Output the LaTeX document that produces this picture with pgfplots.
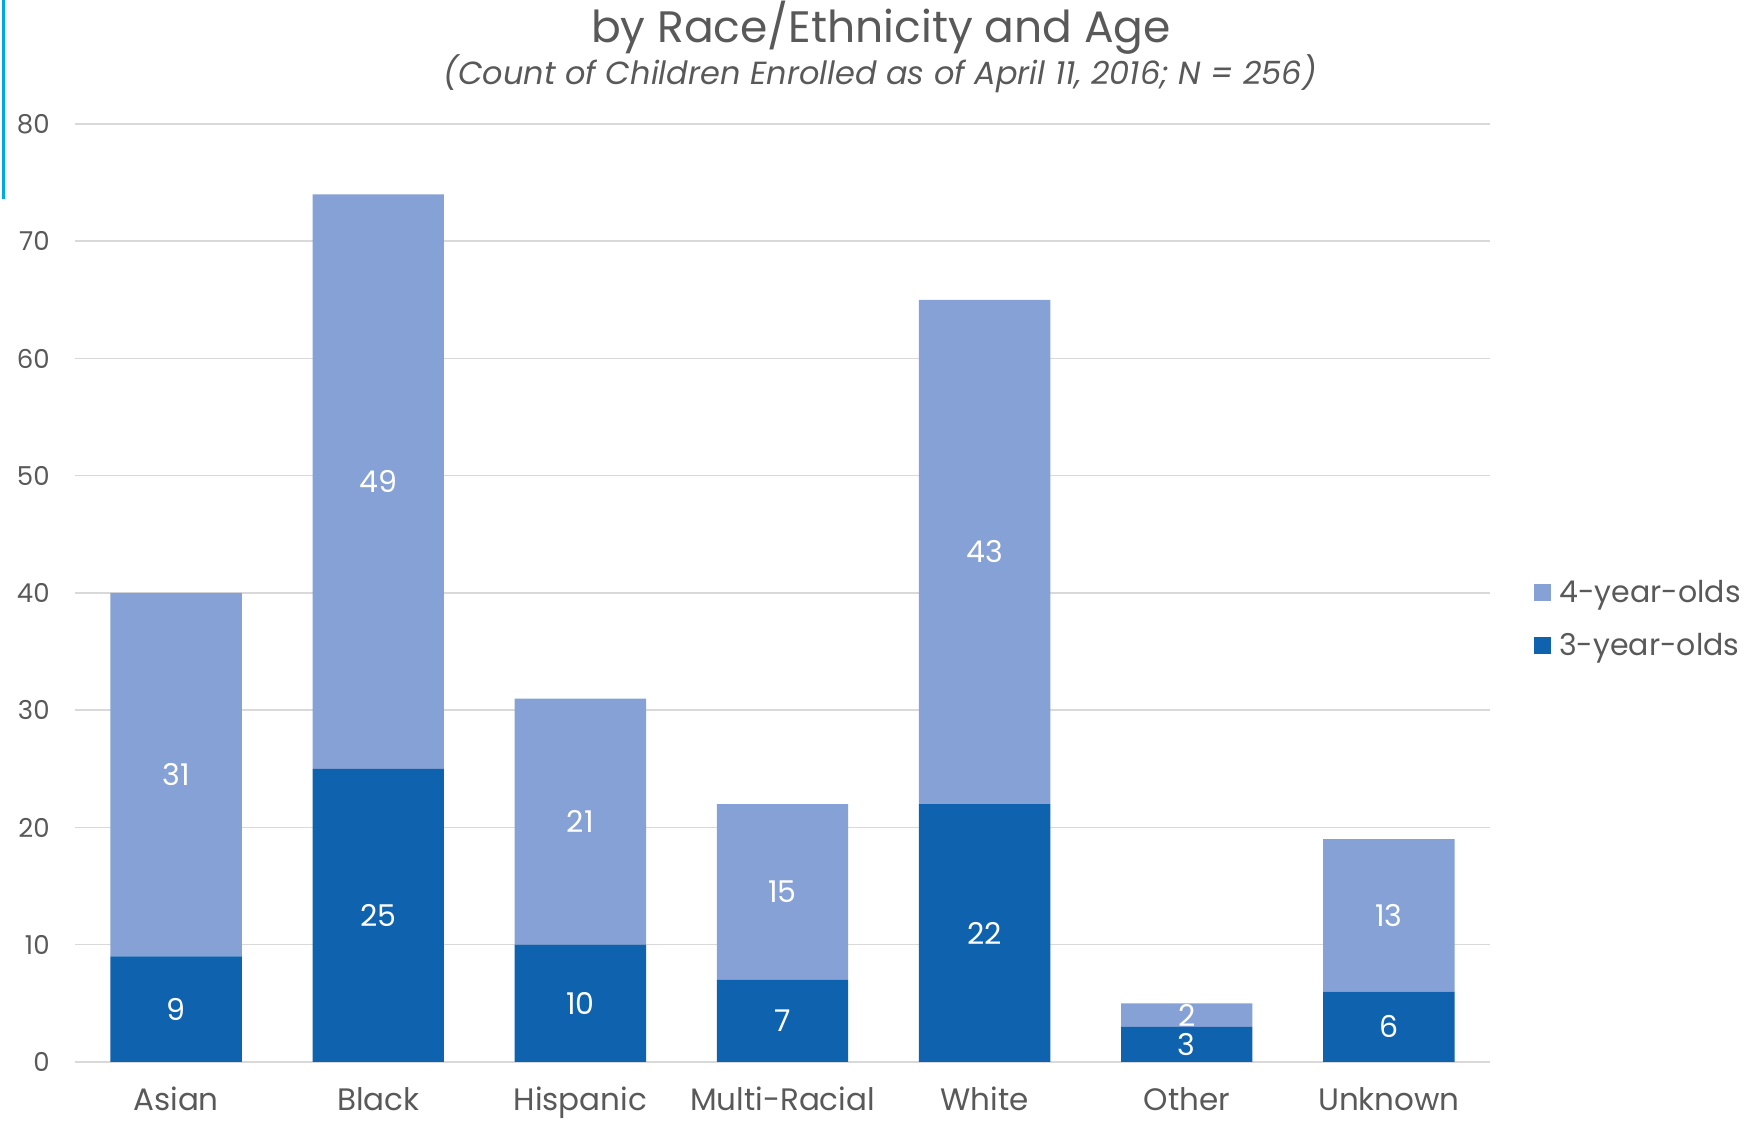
\documentclass[border=0pt]{standalone}
\usepackage{fontspec}
\setmainfont{Poppins}
\usepackage{pgfplots}
\usepackage{pgfplotstable}
\pgfplotsset{compat=1.18}

\definecolor{fouryr}{HTML}{86A1D6}
\definecolor{threeyr}{HTML}{0E62AE}
\definecolor{txtgray}{HTML}{595959}
\definecolor{gridgray}{HTML}{D9D9D9}
\definecolor{edgecyan}{HTML}{00A8E6}

% enrolment counts per group
\pgfplotstableread{
x three four
0 9  31
1 25 49
2 10 21
3 7  15
4 22 43
5 3  2
6 6  13
}\enroll

% label positions (middle of each segment)
\pgfplotstableread{
x y    lab
0 4.5  9
0 24.5 31
1 12.5 25
1 49.5 49
2 5    10
2 20.5 21
3 3.5  7
3 14.5 15
4 11   22
4 43.5 43
5 1.5  3
5 4    2
6 3    6
6 12.5 13
}\labels

\begin{document}
\begin{tikzpicture}
    \useasboundingbox (0,0) rectangle (878pt,561.5pt);
    \draw[edgecyan, line width=1.5pt] (1.7pt,561.5pt) -- (1.7pt,461.8pt);

    \node[anchor=base, text=txtgray, font=\fontsize{22}{26}\selectfont]
        at (440.5pt,540pt) {by Race/Ethnicity and Age};
    \node[anchor=base, text=txtgray, font=\fontsize{16}{19}\selectfont\itshape]
        at (440pt,519pt) {(Count of Children Enrolled as of April 11, 2016; N = 256)};

    \begin{axis}[
            at={(37.5pt,30.5pt)},
            anchor=south west,
            scale only axis,
            width=707.5pt,
            height=469pt,
            ybar stacked,
            bar width=0.65,
            xmin=-0.5, xmax=6.5,
            ymin=0, ymax=80,
            ytick={0,10,...,80},
            xtick=data,
            xticklabels={Asian, Black, Hispanic, Multi-Racial, White, Other, Unknown},
            major tick length=0pt,
            axis line style={draw=none},
            ymajorgrids,
            grid style={gridgray, line width=0.75pt},
            /pgf/number format/assume math mode=true,
            yticklabel style={font=\fontsize{13}{15}\selectfont, text=txtgray,
                    anchor=east, inner sep=0pt, xshift=-12.5pt},
            xticklabel style={font=\fontsize{15.5}{18}\selectfont, text=txtgray,
                    anchor=base, inner sep=0pt, yshift=-24.5pt},
            legend style={at={(1.031,0.472)}, anchor=west, draw=none, fill=none,
                    font=\fontsize{15}{18}\selectfont, text=txtgray,
                    row sep=10pt, inner sep=0pt,
                    /tikz/every odd column/.append style={column sep=2pt}},
            legend cell align=left,
            reverse legend,
            legend image code/.code={
                    \fill[#1] (0pt,-4.25pt) rectangle (8.5pt,4.25pt);
                },
        ]
        \addplot[fill=threeyr, draw=none] table[x=x, y=three] {\enroll};
        \addlegendentry{3-year-olds}
        \addplot[fill=fouryr, draw=none] table[x=x, y=four] {\enroll};
        \addlegendentry{4-year-olds}
    \end{axis}

    % value labels
    \begin{axis}[
            at={(37.5pt,30.5pt)},
            anchor=south west,
            scale only axis,
            width=707.5pt,
            height=469pt,
            xmin=-0.5, xmax=6.5,
            ymin=0, ymax=80,
            hide axis,
        ]
        \addplot[draw=none, mark=none, nodes near coords,
            point meta=explicit symbolic,
            nodes near coords style={anchor=center, text=white,
                    font=\fontsize{15}{18}\selectfont}]
            table[x=x, y=y, meta=lab] {\labels};
    \end{axis}
\end{tikzpicture}
\end{document}
